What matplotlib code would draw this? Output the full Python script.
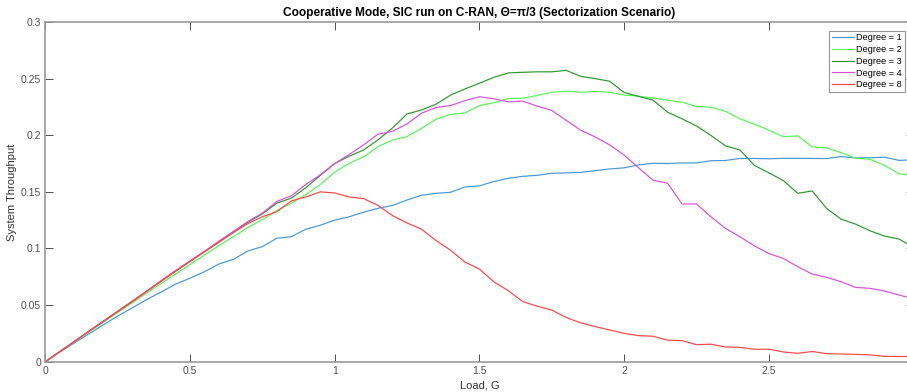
import numpy as np
import matplotlib
matplotlib.use("Agg")
import matplotlib.pyplot as plt

plt.rcParams['font.family'] = ['Liberation Sans', 'DejaVu Sans']

# load G, 0:0.05:3
load = np.linspace(0, 3, 61)

deg1 = [0, .0085, .0165, .0245, .0325, .0403, .0475, .0548, .0615, .0685,
        .0737, .0795, .0863, .0904, .0978, .1016, .1090, .1104, .1170, .1205,
        .1250, .1280, .1320, .1355, .1380, .1428, .1470, .1487, .1496, .1543,
        .1553, .1591, .1620, .1637, .1646, .1664, .1667, .1672, .1687, .1702,
        .1712, .1738, .1752, .1750, .1755, .1755, .1775, .1777, .1795, .1795,
        .1792, .1796, .1796, .1795, .1794, .1812, .1800, .1801, .1806, .1778, .1783]
deg2 = [0, .0088, .0175, .0262, .0348, .0434, .0520, .0606, .0690, .0775,
        .0858, .0942, .1025, .1105, .1185, .1255, .1335, .1400, .1475, .1565,
        .1675, .1752, .1810, .1900, .1958, .1988, .2062, .2141, .2183, .2197,
        .2262, .2287, .2325, .2327, .2351, .2380, .2389, .2380, .2386, .2380,
        .2355, .2345, .2328, .2309, .2292, .2254, .2248, .2211, .2145, .2098,
        .2045, .1987, .1995, .1897, .1888, .1846, .1797, .1787, .1733, .1660, .1640]
deg3 = [0, .0089, .0178, .0268, .0355, .0442, .0530, .0622, .0710, .0798,
        .0885, .0972, .1060, .1148, .1232, .1305, .1400, .1445, .1535, .1645,
        .1750, .1815, .1870, .1960, .2065, .2188, .2223, .2274, .2354, .2409,
        .2459, .2512, .2550, .2556, .2560, .2560, .2573, .2520, .2500, .2477,
        .2378, .2343, .2310, .2204, .2145, .2082, .1998, .1907, .1870, .1734,
        .1668, .1600, .1487, .1508, .1353, .1259, .1215, .1156, .1109, .1083, .1010]
deg4 = [0, .0089, .0178, .0267, .0356, .0445, .0534, .0623, .0716, .0805,
        .0890, .0975, .1065, .1150, .1238, .1312, .1415, .1465, .1565, .1650,
        .1750, .1830, .1915, .2010, .2035, .2100, .2195, .2245, .2262, .2305,
        .2340, .2322, .2295, .2301, .2257, .2219, .2132, .2044, .1985, .1915,
        .1825, .1712, .1603, .1576, .1393, .1393, .1280, .1178, .1104, .1023,
        .0955, .0912, .0839, .0774, .0745, .0706, .0656, .0648, .0624, .0589, .0555]
deg8 = [0, .0089, .0178, .0268, .0356, .0445, .0533, .0620, .0710, .0800,
        .0885, .0970, .1055, .1140, .1220, .1280, .1325, .1420, .1455, .1500,
        .1490, .1455, .1440, .1380, .1290, .1225, .1170, .1070, .0985, .0880,
        .0818, .0705, .0627, .0530, .0490, .0456, .0390, .0344, .0310, .0280,
        .0250, .0230, .0225, .0190, .0186, .0150, .0155, .0130, .0127, .0110,
        .0110, .0086, .0074, .0090, .0071, .0068, .0065, .0060, .0047, .0046, .0045]

series = [deg1, deg2, deg3, deg4, deg8]
labels = ['Degree = 1', 'Degree = 2', 'Degree = 3', 'Degree = 4', 'Degree = 8']
colors = ['#4896d4', '#55f555', '#2e962e', '#d84fd8', '#ff4545']

W, H = 907, 392
fig = plt.figure(figsize=(W / 100, H / 100), dpi=100)
# axes runs a bit past the right edge (image was cropped)
ax = fig.add_axes([45.3 / W, 1 - 361.7 / H, (913.5 - 45.3) / W, (361.7 - 22) / H])

for y, lab, c in zip(series, labels, colors):
    ax.plot(load, y, color=c, lw=0.85, label=lab)

ax.set_xlim(0, 3)
ax.set_ylim(0, 0.3)
ax.set_xticks([0, 0.5, 1, 1.5, 2, 2.5])
ax.set_xticklabels(['0', '0.5', '1', '1.5', '2', '2.5'])
ax.set_yticks([0, 0.05, 0.1, 0.15, 0.2, 0.25, 0.3])
ax.set_yticklabels(['0', '0.05', '0.1', '0.15', '0.2', '0.25', '0.3'])
ax.tick_params(direction='in', top=True, right=True, length=5.5, width=0.7,
               colors='#505050', labelsize=7.5, pad=3)
for s in ax.spines.values():
    s.set_color('#9a9a9a')
    s.set_linewidth(1.2)

ax.set_xlabel('Load, G', fontsize=8, color='#303030', labelpad=3)
ax.set_ylabel('System Throughput', fontsize=8, color='#303030', labelpad=3)
ax.set_title('Cooperative Mode, SIC run on C-RAN, \u0398=\u03c0/3 (Sectorization Scenario)',
             fontsize=8.6, fontweight='bold', pad=4)

leg = ax.legend(loc='upper right', bbox_to_anchor=(905 / W, 1 - 30.5 / H),
                bbox_transform=fig.transFigure, fontsize=6.6, frameon=True,
                fancybox=False, borderpad=0.3, labelspacing=0.3,
                handlelength=2.4, handletextpad=0.3, borderaxespad=0)
leg.get_frame().set_edgecolor('#7a7a7a')
leg.get_frame().set_linewidth(0.8)

fig.savefig('out.png', dpi=100)
